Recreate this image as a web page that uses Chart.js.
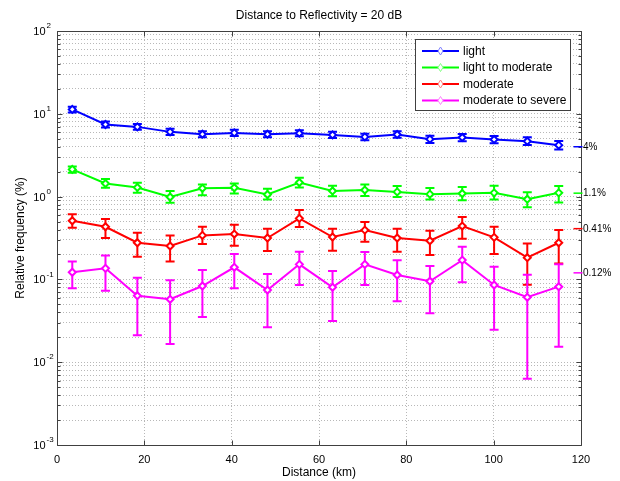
<!DOCTYPE html>
<html>
<head>
<meta charset="utf-8">
<script src="https://cdn.jsdelivr.net/npm/chart.js@4.4.0/dist/chart.umd.min.js"></script>
<style>
html, body { margin: 0; padding: 0; background: #fff; }
#wrap { width: 620px; height: 481px; }
</style>
</head>
<body>
<div id="wrap"><canvas id="freqChart" width="620" height="481"></canvas></div>
<script>
// distance bins (km)
var distance = [3.5, 11.1, 18.4, 25.9, 33.3, 40.6, 48.2, 55.5, 63.1, 70.5, 77.9, 85.4, 92.8, 100.1, 107.7, 114.9];

var seriesNames = ['light', 'light to moderate', 'moderate', 'moderate to severe'];

// relative frequency (%) with error bar ends
var light     = [11.3, 7.43, 6.95, 6.05, 5.67, 5.88, 5.67, 5.83, 5.56, 5.26, 5.63, 4.94, 5.18, 4.90, 4.67, 4.18];
var lightLow  = [10.4, 6.85, 6.4, 5.55, 5.2, 5.4, 5.2, 5.35, 5.1, 4.8, 5.15, 4.45, 4.65, 4.4, 4.2, 3.7];
var lightHigh = [12.2, 8.1, 7.55, 6.6, 6.15, 6.4, 6.15, 6.35, 6.05, 5.75, 6.15, 5.45, 5.7, 5.4, 5.2, 4.7];

var lightMod     = [2.13, 1.44, 1.29, 0.99, 1.26, 1.28, 1.06, 1.48, 1.17, 1.20, 1.14, 1.07, 1.09, 1.11, 0.93, 1.11];
var lightModLow  = [1.94, 1.28, 1.11, 0.84, 1.04, 1.09, 0.925, 1.29, 1.01, 1.02, 0.99, 0.925, 0.905, 0.925, 0.745, 0.85];
var lightModHigh = [2.31, 1.63, 1.47, 1.165, 1.40, 1.44, 1.24, 1.69, 1.35, 1.40, 1.34, 1.27, 1.31, 1.35, 1.13, 1.34];

var moderate     = [0.511, 0.432, 0.277, 0.253, 0.340, 0.353, 0.316, 0.546, 0.325, 0.394, 0.316, 0.293, 0.441, 0.322, 0.183, 0.277];
var moderateLow  = [0.420, 0.316, 0.188, 0.165, 0.267, 0.255, 0.220, 0.429, 0.222, 0.285, 0.216, 0.197, 0.310, 0.202, 0.0863, 0.156];
var moderateHigh = [0.610, 0.535, 0.366, 0.340, 0.432, 0.457, 0.409, 0.687, 0.409, 0.492, 0.409, 0.387, 0.566, 0.432, 0.272, 0.394];

var severe     = [0.122, 0.136, 0.0636, 0.0575, 0.0832, 0.140, 0.0745, 0.152, 0.0803, 0.152, 0.113, 0.0949, 0.171, 0.0856, 0.0608, 0.0817];
var severeLow  = [0.0781, 0.0731, 0.0212, 0.0166, 0.0352, 0.0781, 0.0264, 0.0856, 0.0315, 0.0856, 0.0544, 0.039, 0.0923, 0.0247, 0.0063, 0.0154];
var severeHigh = [0.165, 0.195, 0.105, 0.0975, 0.130, 0.202, 0.116, 0.216, 0.126, 0.214, 0.170, 0.145, 0.248, 0.142, 0.114, 0.152];

// overall means marked on the right edge
var meanValues = [4, 1.1, 0.41, 0.12];
var meanLabels = ['4%', '1.1%', '0.41%', '0.12%'];

var xTicks = [0, 20, 40, 60, 80, 100, 120];
var yExponents = [-3, -2, -1, 0, 1, 2];

var colors = ['#0000ff', '#00ff00', '#ff0000', '#ff00ff'];
var lightColors = ['#8080ff', '#80ff80', '#ff8080', '#ff80ff'];
var FONT = '"Liberation Sans", Arial, Helvetica, sans-serif';

function toPoints(vals) {
  return vals.map(function (v, i) { return { x: distance[i], y: v }; });
}

// 1..9 per decade, like matlab minor grid
function logTicks() {
  var t = [];
  for (var e = yExponents[0]; e < yExponents[yExponents.length - 1]; e++) {
    for (var m = 1; m < 10; m++) t.push(+(m * Math.pow(10, e)).toPrecision(3));
  }
  t.push(Math.pow(10, yExponents[yExponents.length - 1]));
  return t;
}

var allVals = [light, lightMod, moderate, severe];
var allLow = [lightLow, lightModLow, moderateLow, severeLow];
var allHigh = [lightHigh, lightModHigh, moderateHigh, severeHigh];

var datasets = seriesNames.map(function (name, k) {
  return {
    label: name,
    data: toPoints(allVals[k]),
    errLow: allLow[k],
    errHigh: allHigh[k],
    borderColor: colors[k],
    backgroundColor: colors[k],
    borderWidth: 2,
    pointStyle: 'rectRot',
    pointRadius: 3.5,
    pointBorderWidth: 2,
    pointBackgroundColor: '#ffffff',
    pointBorderColor: colors[k],
    tension: 0,
    fill: false
  };
});

var errorBars = {
  id: 'errorBars',
  beforeDatasetsDraw: function (chart) {
    var ctx = chart.ctx, xs = chart.scales.x, ys = chart.scales.y;
    ctx.save();
    ctx.lineWidth = 2;
    chart.data.datasets.forEach(function (ds) {
      ctx.strokeStyle = ds.borderColor;
      ds.data.forEach(function (p, i) {
        var x = xs.getPixelForValue(p.x);
        var y1 = ys.getPixelForValue(ds.errLow[i]);
        var y2 = ys.getPixelForValue(ds.errHigh[i]);
        ctx.beginPath();
        ctx.moveTo(x, y1); ctx.lineTo(x, y2);
        ctx.moveTo(x - 4.5, y1); ctx.lineTo(x + 4.5, y1);
        ctx.moveTo(x - 4.5, y2); ctx.lineTo(x + 4.5, y2);
        ctx.stroke();
      });
    });
    ctx.restore();
  }
};

var matlabAxes = {
  id: 'matlabAxes',
  afterDraw: function (chart) {
    var ctx = chart.ctx, a = chart.chartArea, xs = chart.scales.x, ys = chart.scales.y;
    var L = Math.round(a.left) + 0.5, R = Math.round(a.right) + 0.5;
    var T = Math.round(a.top) + 0.5, B = Math.round(a.bottom) + 0.5;
    ctx.save();

    // box + inward ticks
    ctx.strokeStyle = '#404040';
    ctx.lineWidth = 1;
    ctx.beginPath();
    ctx.rect(L, T, R - L, B - T);
    xTicks.forEach(function (v) {
      var x = Math.round(xs.getPixelForValue(v)) + 0.5;
      ctx.moveTo(x, B); ctx.lineTo(x, B - 5);
      ctx.moveTo(x, T); ctx.lineTo(x, T + 5);
    });
    logTicks().forEach(function (v) {
      var y = Math.round(ys.getPixelForValue(v)) + 0.5;
      var len = Math.abs(Math.log10(v) - Math.round(Math.log10(v))) < 1e-6 ? 5 : 3;
      ctx.moveTo(L, y); ctx.lineTo(L + len, y);
      ctx.moveTo(R, y); ctx.lineTo(R - len, y);
    });
    ctx.stroke();

    // y labels 10^n
    ctx.fillStyle = '#000';
    ctx.textBaseline = 'middle';
    yExponents.forEach(function (e) {
      var y = ys.getPixelForValue(Math.pow(10, e));
      ctx.font = '11px ' + FONT;
      ctx.textAlign = 'right';
      ctx.fillText('10', 45.5, y + 1);
      ctx.font = '8px ' + FONT;
      ctx.textAlign = 'left';
      ctx.fillText(String(e), 46.5, y - 5);
    });

    // title
    ctx.font = '12px ' + FONT;
    ctx.textAlign = 'center';
    ctx.fillText('Distance to Reflectivity = 20 dB', (a.left + a.right) / 2, 16);

    // mean markers on the right
    ctx.font = '10px ' + FONT;
    ctx.textAlign = 'left';
    meanValues.forEach(function (v, k) {
      var y = ys.getPixelForValue(v);
      ctx.strokeStyle = colors[k];
      ctx.lineWidth = 1.5;
      ctx.beginPath();
      ctx.moveTo(R - 8, y); ctx.lineTo(R + 1, y);
      ctx.stroke();
      ctx.fillStyle = '#000';
      ctx.fillText(meanLabels[k], R + 1.5, y + 0.5);
    });

    // legend box
    var lx = 415.5, ly = 39.5, lw = 155, lh = 71;
    ctx.fillStyle = '#fff';
    ctx.fillRect(lx, ly, lw, lh);
    ctx.strokeStyle = '#404040';
    ctx.lineWidth = 1;
    ctx.strokeRect(lx, ly, lw, lh);
    ctx.font = '12px ' + FONT;
    chart.data.datasets.forEach(function (ds, k) {
      var y = 51 + k * 16.5;
      ctx.strokeStyle = colors[k];
      ctx.lineWidth = 2;
      ctx.beginPath();
      ctx.moveTo(422, y); ctx.lineTo(459, y);
      ctx.stroke();
      ctx.strokeStyle = lightColors[k];
      ctx.fillStyle = '#fff';
      ctx.lineWidth = 1;
      ctx.beginPath();
      ctx.moveTo(440.5, y - 4); ctx.lineTo(443, y); ctx.lineTo(440.5, y + 4); ctx.lineTo(438, y);
      ctx.closePath();
      ctx.fill();
      ctx.stroke();
      ctx.fillStyle = '#000';
      ctx.fillText(ds.label, 463, y + 0.5);
    });

    ctx.restore();
  }
};

var ctx = document.getElementById('freqChart').getContext('2d');
var freqChart = new Chart(ctx, {
  type: 'line',
  data: { datasets: datasets },
  options: {
    responsive: false,
    devicePixelRatio: 1,
    animation: false,
    layout: { padding: { top: 31, right: 39, bottom: 0, left: 0 } },
    plugins: {
      legend: { display: false },
      tooltip: { enabled: false },
      title: { display: false }
    },
    scales: {
      x: {
        type: 'linear',
        min: 0,
        max: 120,
        afterBuildTicks: function (scale) {
          scale.ticks = xTicks.map(function (v) { return { value: v }; });
        },
        afterFit: function (scale) { scale.height = 36; },
        grid: { color: '#b8b8b8', lineWidth: 1, drawTicks: false, borderDash: [1, 2] },
        border: { display: false, dash: [1, 2] },
        ticks: { color: '#000', padding: 8, maxRotation: 0, font: { family: FONT, size: 11 } },
        title: { display: true, text: 'Distance (km)', color: '#000', padding: { top: 0, bottom: 1 }, font: { family: FONT, size: 12 } }
      },
      y: {
        type: 'logarithmic',
        min: 0.001,
        max: 100,
        afterBuildTicks: function (scale) {
          scale.ticks = logTicks().map(function (v) { return { value: v }; });
        },
        afterFit: function (scale) { scale.width = 57; },
        grid: { color: '#b8b8b8', lineWidth: 1, drawTicks: false, borderDash: [1, 2] },
        border: { display: false, dash: [1, 2] },
        ticks: { display: false },
        title: { display: true, text: 'Relative frequency (%)', color: '#000', padding: { top: 13, bottom: 0 }, font: { family: FONT, size: 12 } }
      }
    }
  },
  plugins: [errorBars, matlabAxes]
});
</script>
</body>
</html>
